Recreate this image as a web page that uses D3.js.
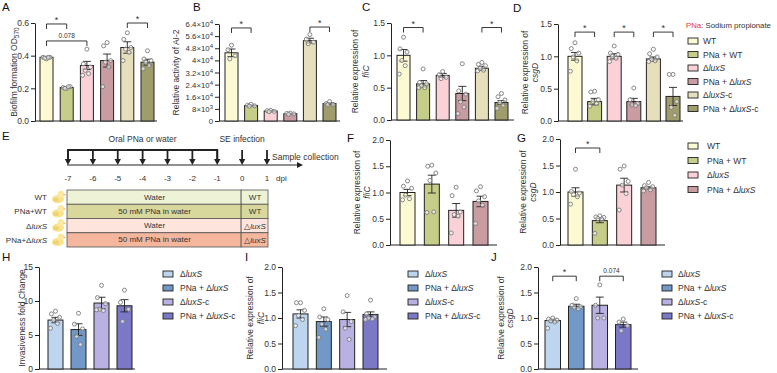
<!DOCTYPE html>
<html>
<head>
<meta charset="utf-8">
<script src="https://cdn.jsdelivr.net/npm/d3@7"></script>
<style>
body { margin: 0; background: #fff; }
svg { display: block; font-family: "Liberation Sans", Arial, sans-serif; }
</style>
</head>
<body>
<div id="chart"></div>
<script>
// groups and colours
const topGroups = ['WT', 'PNa + WT', 'ΔluxS', 'PNa + ΔluxS', 'ΔluxS-c', 'PNa + ΔluxS-c'];
const topColors = ['#fcfad3', '#c6cd89', '#f9d1d7', '#c99ca1', '#e6dfbc', '#a09d6c'];
const midGroups = ['WT', 'PNa + WT', 'ΔluxS', 'PNa + ΔluxS'];
const midColors = ['#fcfad3', '#c6cd89', '#f9d1d7', '#c99ca1'];
const botGroups = ['ΔluxS', 'PNa + ΔluxS', 'ΔluxS-c', 'PNa + ΔluxS-c'];
const botColors = ['#bdd5ee', '#7298c7', '#b9b1e1', '#7b78c7'];

// A: biofilm
const biofilmMean = [0.39, 0.205, 0.34, 0.37, 0.45, 0.36];
const biofilmSem = [0.005, 0.005, 0.025, 0.04, 0.035, 0.018];
const biofilmPts = [
    [0.38, 0.39, 0.39, 0.385, 0.39],
    [0.20, 0.205, 0.21, 0.20, 0.21],
    [0.44, 0.35, 0.33, 0.31, 0.29, 0.28],
    [0.48, 0.46, 0.37, 0.36, 0.33, 0.21],
    [0.54, 0.50, 0.45, 0.44, 0.42, 0.37],
    [0.43, 0.38, 0.37, 0.36, 0.34, 0.32]
];
// B: AI-2
const ai2Mean = [45000, 10200, 6600, 4800, 53000, 11500];
const ai2Sem = [2500, 400, 300, 250, 1600, 600];
const ai2Pts = [
    [50000, 47000, 43000, 41000],
    [11000, 10500, 10000, 9800],
    [7000, 6800, 6400, 6200],
    [5200, 5000, 4700, 4400],
    [57000, 54000, 52000, 51000],
    [12800, 11500, 11000, 10800]
];
// C: fliC (in vitro)
const fliCMean = [1.0, 0.56, 0.69, 0.41, 0.80, 0.27];
const fliCSem = [0.09, 0.05, 0.03, 0.11, 0.03, 0.03];
const fliCPts = [
    [1.28, 1.10, 1.05, 0.92, 0.84, 0.71],
    [0.79, 0.58, 0.56, 0.53, 0.50, 0.50],
    [0.75, 0.70, 0.66, 0.64],
    [0.87, 0.45, 0.40, 0.28, 0.20, 0.10],
    [0.89, 0.86, 0.84, 0.80, 0.77, 0.76],
    [0.41, 0.36, 0.31, 0.27, 0.23, 0.18]
];
// D: csgD (in vitro)
const csgDMean = [1.0, 0.30, 1.0, 0.30, 0.96, 0.38];
const csgDSem = [0.06, 0.05, 0.04, 0.05, 0.03, 0.14];
const csgDPts = [
    [1.21, 1.12, 1.05, 0.99, 0.93, 0.77],
    [0.46, 0.45, 0.33, 0.30, 0.27, 0.23],
    [1.16, 1.05, 1.03, 1.0, 0.97, 0.92],
    [0.51, 0.33, 0.27, 0.25, 0.24],
    [1.11, 1.04, 0.99, 0.95, 0.93, 0.92],
    [0.72, 0.72, 0.30, 0.21, 0.09]
];
// F, G: in vivo
const fliCVivoMean = [1.0, 1.16, 0.66, 0.83];
const fliCVivoSem = [0.06, 0.17, 0.13, 0.10];
const fliCVivoPts = [
    [1.22, 1.12, 1.08, 0.95, 0.88, 0.86],
    [1.52, 1.50, 1.37, 1.23, 0.63, 0.62],
    [1.10, 0.94, 0.63, 0.58, 0.55, 0.23],
    [1.11, 1.03, 0.92, 0.84, 0.76, 0.41]
];
const csgDVivoMean = [1.0, 0.46, 1.13, 1.08];
const csgDVivoSem = [0.08, 0.04, 0.13, 0.02];
const csgDVivoPts = [
    [1.43, 1.01, 0.98, 0.95, 0.91, 0.77],
    [0.55, 0.53, 0.52, 0.50, 0.49, 0.22],
    [1.49, 1.43, 1.20, 1.13, 0.97, 0.66],
    [1.18, 1.12, 1.10, 1.08, 1.04, 1.02]
];
// H, I, J
const invMean = [7.2, 5.8, 9.7, 9.3];
const invSem = [0.4, 0.85, 0.85, 0.9];
const invPts = [
    [8.5, 8.1, 7.6, 7.2, 6.7, 6.0],
    [8.2, 6.6, 5.9, 4.8, 3.6],
    [12.3, 10.5, 9.6, 8.8, 8.6, 8.7],
    [11.6, 9.8, 8.8, 7.0]
];
const fliCCompMean = [1.08, 0.93, 0.97, 1.07];
const fliCCompSem = [0.08, 0.09, 0.14, 0.05];
const fliCCompPts = [
    [1.30, 1.30, 1.15, 1.05, 0.97, 0.85],
    [1.18, 1.02, 0.97, 0.88, 0.78, 0.62],
    [1.44, 1.12, 0.93, 0.80, 0.58],
    [1.35, 1.08, 1.02, 1.00, 0.98, 0.97]
];
const csgDCompMean = [0.95, 1.23, 1.25, 0.87];
const csgDCompSem = [0.03, 0.04, 0.16, 0.05];
const csgDCompPts = [
    [1.0, 0.98, 0.96, 0.94, 0.92, 0.80],
    [1.38, 1.25, 1.22, 1.20, 1.18],
    [1.65, 1.25, 1.0, 1.0],
    [0.98, 0.92, 0.85, 0.75]
];

// tick values
const ticks06 = [0, 0.2, 0.4, 0.6];
const ticksAI2 = [0, 8000, 16000, 24000, 32000, 40000, 48000, 56000, 64000];
const ticks15 = [0, 0.5, 1.0, 1.5];
const ticks20 = [0, 0.5, 1.0, 1.5, 2.0];
const ticksInv = [0, 5, 10, 15];

// E: timeline and table
const days = [-7, -6, -5, -4, -3, -2, -1, 0, 1];
const oralDays = [-7, -6, -5, -4, -3, -2, -1];
const tableRows = ['WT', 'PNa+WT', 'ΔluxS', 'PNa+ΔluxS'];
const tableTreat = ['Water', '50 mM PNa in water', 'Water', '50 mM PNa in water'];
const tableStrain = ['WT', 'WT', '△luxS', '△luxS'];
const tableColors = ['#eef2d6', '#d8d89c', '#fde4dc', '#f4b69d'];

const FONT = '"Liberation Sans", Arial, sans-serif';
const INK = '#222';
const TXT = '#333';

const svg = d3.select('#chart').append('svg')
    .attr('width', 777)
    .attr('height', 373);

function richText(sel, str) {
    str.split(/(luxS|fliC|csgD)/).forEach(part => {
        if (!part) return;
        sel.append('tspan')
            .attr('font-style', /^(luxS|fliC|csgD)$/.test(part) ? 'italic' : null)
            .text(part);
    });
}

function letter(ch, x, y) {
    svg.append('text').attr('x', x).attr('y', y)
        .attr('font-size', 11.5).attr('fill', '#111').text(ch);
}

const jitter = [0, -0.27, 0.27, -0.13, 0.13, -0.33, 0.33];

function drawBarPanel(p) {
    const g = svg.append('g');
    const y = d3.scaleLinear().domain([0, p.yMax]).range([p.y0, p.y1]);
    const n = p.groups.length;
    const step = (p.barR - p.barL - p.barW) / (n - 1);
    const x = d3.scaleBand().domain(p.groups).range([p.barL, p.barR])
        .paddingInner(1 - p.barW / step).paddingOuter(0);
    const bw = x.bandwidth();

    const yAxis = g.append('g')
        .attr('transform', `translate(${p.axisX},0)`)
        .call(d3.axisLeft(y).tickValues(p.ticks).tickSize(4).tickSizeOuter(0)
            .tickPadding(2).tickFormat(p.fmt || d3.format('.1f')))
        .attr('font-family', FONT)
        .attr('font-size', p.tickSize || 8.5);
    yAxis.select('.domain').attr('stroke', INK);
    yAxis.selectAll('.tick line').attr('stroke', INK);
    yAxis.selectAll('.tick text').attr('fill', TXT);

    if (p.sci) {
        yAxis.selectAll('.tick text').each(function (d) {
            const t = d3.select(this).text('');
            if (d === 0) { t.text('0'); return; }
            const e = Math.floor(Math.log10(d) + 1e-9);
            const m = +(d / Math.pow(10, e)).toFixed(1);
            t.append('tspan').text(m + '×10');
            t.append('tspan').attr('dy', -3).attr('font-size', 6).text(e);
        });
    }

    g.append('line')
        .attr('x1', p.axisX).attr('x2', p.xEnd)
        .attr('y1', p.y0).attr('y2', p.y0)
        .attr('stroke', INK).attr('stroke-width', 1);

    const rows = p.groups.map((grp, i) => ({
        grp, mean: p.mean[i], sem: p.sem[i], pts: p.pts[i], color: p.colors[i]
    }));

    g.selectAll('rect.bar').data(rows).enter().append('rect')
        .attr('class', 'bar')
        .attr('x', d => x(d.grp))
        .attr('y', d => y(d.mean))
        .attr('width', bw)
        .attr('height', d => p.y0 - y(d.mean))
        .attr('fill', d => d.color)
        .attr('stroke', INK).attr('stroke-width', 1);

    const eb = g.selectAll('g.err').data(rows).enter().append('g').attr('class', 'err')
        .attr('stroke', INK).attr('stroke-width', 0.9);
    const cx = d => x(d.grp) + bw / 2;
    eb.append('line')
        .attr('x1', cx).attr('x2', cx)
        .attr('y1', d => y(d.mean - d.sem)).attr('y2', d => y(d.mean + d.sem));
    eb.append('line')
        .attr('x1', d => cx(d) - 4).attr('x2', d => cx(d) + 4)
        .attr('y1', d => y(d.mean + d.sem)).attr('y2', d => y(d.mean + d.sem));
    eb.append('line')
        .attr('x1', d => cx(d) - 4).attr('x2', d => cx(d) + 4)
        .attr('y1', d => y(d.mean - d.sem)).attr('y2', d => y(d.mean - d.sem));

    rows.forEach(r => {
        g.selectAll(null).data(r.pts).enter().append('circle')
            .attr('cx', (v, i) => cx(r) + jitter[i % jitter.length] * bw)
            .attr('cy', v => y(v))
            .attr('r', 2)
            .attr('fill', '#fff')
            .attr('fill-opacity', 0.6)
            .attr('stroke', '#7a7a7a')
            .attr('stroke-width', 0.9);
    });

    (p.sig || []).forEach(s => {
        const xa = cx(rows[s.a]), xb = cx(rows[s.b]), yy = y(s.v);
        g.append('path')
            .attr('d', `M${xa},${yy + 5}V${yy}H${xb}V${yy + 5}`)
            .attr('fill', 'none').attr('stroke', INK).attr('stroke-width', 0.9);
        g.append('text')
            .attr('x', (xa + xb) / 2)
            .attr('y', s.label === '*' ? yy - 1 : yy - 3)
            .attr('text-anchor', 'middle')
            .attr('font-size', s.label === '*' ? 9 : 6.5)
            .attr('fill', TXT)
            .text(s.label);
    });

    const yc = (p.y0 + p.y1) / 2;
    p.label.forEach((line, i) => {
        const t = g.append('text')
            .attr('transform', `translate(${p.labelX[i]},${yc}) rotate(-90)`)
            .attr('text-anchor', 'middle')
            .attr('dominant-baseline', 'central')
            .attr('font-size', 8.5)
            .attr('fill', TXT);
        richText(t, line);
        if (p.labelSub && i === 0) {
            t.append('tspan').attr('dy', 2).attr('font-size', 6.5).text(p.labelSub);
        }
    });
}

function drawLegend(groups, colors, sx, tx, y0, dy) {
    const g = svg.append('g');
    groups.forEach((grp, i) => {
        const yy = y0 + i * dy;
        g.append('rect')
            .attr('x', sx).attr('y', yy - 3)
            .attr('width', 10).attr('height', 6)
            .attr('fill', colors[i])
            .attr('stroke', INK).attr('stroke-width', 0.9);
        const t = g.append('text')
            .attr('x', tx).attr('y', yy)
            .attr('dominant-baseline', 'central')
            .attr('font-size', 8.5).attr('fill', TXT);
        richText(t, grp);
    });
}

// ---- top row ----
drawBarPanel({
    groups: topGroups, colors: topColors, mean: biofilmMean, sem: biofilmSem, pts: biofilmPts,
    yMax: 0.6, ticks: ticks06, y0: 121, y1: 23, axisX: 35, xEnd: 157,
    barL: 40, barR: 154, barW: 13,
    label: ['Biofilm formation OD'], labelSub: '570', labelX: [14],
    sig: [{a: 0, b: 1, v: 0.594, label: '*'}, {a: 0, b: 2, v: 0.49, label: '0.078'},
          {a: 4, b: 5, v: 0.60, label: '*'}]
});
drawBarPanel({
    groups: topGroups, colors: topColors, mean: ai2Mean, sem: ai2Sem, pts: ai2Pts,
    yMax: 64000, ticks: ticksAI2, y0: 121, y1: 24, axisX: 219, xEnd: 340,
    barL: 225, barR: 336, barW: 13, sci: true, tickSize: 7.8,
    label: ['Relative activity of AI-2'], labelX: [176],
    sig: [{a: 0, b: 1, v: 61400, label: '*'}, {a: 4, b: 5, v: 62000, label: '*'}]
});
drawBarPanel({
    groups: topGroups, colors: topColors, mean: fliCMean, sem: fliCSem, pts: fliCPts,
    yMax: 1.5, ticks: ticks15, y0: 120, y1: 23, axisX: 391, xEnd: 514,
    barL: 397, barR: 508, barW: 13,
    label: ['Relative expression of', 'fliC'], labelX: [355, 366],
    sig: [{a: 0, b: 1, v: 1.43, label: '*'}, {a: 4, b: 5, v: 1.43, label: '*'}]
});
drawBarPanel({
    groups: topGroups, colors: topColors, mean: csgDMean, sem: csgDSem, pts: csgDPts,
    yMax: 1.5, ticks: ticks15, y0: 121, y1: 24, axisX: 558, xEnd: 683,
    barL: 568, barR: 680, barW: 14,
    label: ['Relative expression of', 'csgD'], labelX: [525, 535],
    sig: [{a: 0, b: 1, v: 1.375, label: '*'}, {a: 2, b: 3, v: 1.375, label: '*'},
          {a: 4, b: 5, v: 1.375, label: '*'}]
});
const pnaNote = svg.append('text').attr('x', 686).attr('y', 25)
    .attr('dominant-baseline', 'central').attr('font-size', 7.8).attr('fill', TXT);
pnaNote.append('tspan').attr('fill', '#e8302a').text('PNa');
pnaNote.append('tspan').text(': Sodium propionate');
drawLegend(topGroups, topColors, 688, 703, 41, 13.5);

// ---- middle row ----
drawBarPanel({
    groups: midGroups, colors: midColors, mean: fliCVivoMean, sem: fliCVivoSem, pts: fliCVivoPts,
    yMax: 2.0, ticks: ticks20, y0: 245, y1: 140, axisX: 390, xEnd: 497,
    barL: 400, barR: 488, barW: 15,
    label: ['Relative expression of', 'fliC'], labelX: [357, 367]
});
drawBarPanel({
    groups: midGroups, colors: midColors, mean: csgDVivoMean, sem: csgDVivoSem, pts: csgDVivoPts,
    yMax: 2.0, ticks: ticks20, y0: 245, y1: 139, axisX: 560, xEnd: 665,
    barL: 568, barR: 656, barW: 15,
    label: ['Relative expression of', 'csgD'], labelX: [523, 533],
    sig: [{a: 0, b: 1, v: 1.83, label: '*'}]
});
drawLegend(midGroups, midColors, 688, 707, 146, 14.5);

// ---- bottom row ----
drawBarPanel({
    groups: botGroups, colors: botColors, mean: invMean, sem: invSem, pts: invPts,
    yMax: 15, ticks: ticksInv, y0: 369, y1: 267, axisX: 39, xEnd: 135,
    barL: 48, barR: 132, barW: 15, fmt: d3.format('d'),
    label: ['Invasiveness fold Change'], labelX: [22]
});
drawLegend(botGroups, botColors, 163, 180, 274, 14);
drawBarPanel({
    groups: botGroups, colors: botColors, mean: fliCCompMean, sem: fliCCompSem, pts: fliCCompPts,
    yMax: 2.0, ticks: ticks20, y0: 369, y1: 267, axisX: 282, xEnd: 387,
    barL: 293, barR: 378, barW: 15,
    label: ['Relative expression of', 'fliC'], labelX: [250, 261]
});
drawLegend(botGroups, botColors, 408, 425, 274, 14);
drawBarPanel({
    groups: botGroups, colors: botColors, mean: csgDCompMean, sem: csgDCompSem, pts: csgDCompPts,
    yMax: 2.0, ticks: ticks20, y0: 369, y1: 267, axisX: 538, xEnd: 638,
    barL: 545, barR: 631, barW: 15.5,
    label: ['Relative expression of', 'csgD'], labelX: [501, 510],
    sig: [{a: 0, b: 1, v: 1.82, label: '*'}, {a: 2, b: 3, v: 1.82, label: '0.074'}]
});
drawLegend(botGroups, botColors, 662, 678, 274, 14);

// ---- E: schedule ----
const dayX = d3.scaleLinear().domain([-7, 1]).range([68, 267]);
const gE = svg.append('g');
const tlY = 165, brY = 150;

gE.append('line').attr('x1', dayX(-7) - 1).attr('x2', 298).attr('y1', tlY).attr('y2', tlY)
    .attr('stroke', INK).attr('stroke-width', 1.2);
gE.append('path').attr('d', `M303,${tlY}L297,${tlY - 3}L297,${tlY + 3}Z`).attr('fill', INK);

gE.append('path')
    .attr('d', `M${dayX(-7)},${tlY - 5}V${brY}H${dayX(-1)}V${tlY - 5}`)
    .attr('fill', 'none').attr('stroke', INK).attr('stroke-width', 1.8);

days.forEach(d => {
    const xx = dayX(d);
    gE.append('line').attr('x1', xx).attr('x2', xx).attr('y1', brY).attr('y2', tlY - 5)
        .attr('stroke', INK).attr('stroke-width', 1.8);
    gE.append('path').attr('d', `M${xx - 3.2},${tlY - 6}L${xx + 3.2},${tlY - 6}L${xx},${tlY}Z`)
        .attr('fill', INK);
});

gE.selectAll('text.day').data(days).enter().append('text')
    .attr('class', 'day')
    .attr('x', d => dayX(d)).attr('y', 178)
    .attr('text-anchor', 'middle').attr('dominant-baseline', 'central')
    .attr('font-size', 8).attr('fill', TXT)
    .text(d => d);
gE.append('text').attr('x', 276).attr('y', 178).attr('dominant-baseline', 'central')
    .attr('font-size', 8).attr('fill', TXT).text('dpi');

gE.append('text').attr('x', d3.mean(oralDays, dayX)).attr('y', 139)
    .attr('text-anchor', 'middle').attr('dominant-baseline', 'central')
    .attr('font-size', 8.5).attr('fill', TXT).text('Oral PNa or water');
gE.append('text').attr('x', dayX(0)).attr('y', 139)
    .attr('text-anchor', 'middle').attr('dominant-baseline', 'central')
    .attr('font-size', 8.5).attr('fill', TXT).text('SE infection');
gE.append('text').attr('x', 272).attr('y', 157)
    .attr('dominant-baseline', 'central')
    .attr('font-size', 8.5).attr('fill', TXT).text('Sample collection');

const rowY = d3.scaleBand().domain(tableRows).range([190, 247]).padding(0);
tableRows.forEach((r, i) => {
    const yy = rowY(r), h = rowY.bandwidth();
    gE.append('rect').attr('x', 67).attr('y', yy).attr('width', dayX(0) - 1 - 67).attr('height', h)
        .attr('fill', tableColors[i]).attr('stroke', '#555').attr('stroke-width', 0.8);
    gE.append('rect').attr('x', dayX(0) - 1).attr('y', yy).attr('width', 268 - dayX(0) + 1).attr('height', h)
        .attr('fill', tableColors[i]).attr('stroke', '#555').attr('stroke-width', 0.8);
    gE.append('text').attr('x', (67 + dayX(0)) / 2).attr('y', yy + h / 2)
        .attr('text-anchor', 'middle').attr('dominant-baseline', 'central')
        .attr('font-size', 8).attr('fill', TXT).text(tableTreat[i]);
    const st = gE.append('text').attr('x', (dayX(0) + 268) / 2).attr('y', yy + h / 2)
        .attr('text-anchor', 'middle').attr('dominant-baseline', 'central')
        .attr('font-size', 8).attr('fill', TXT);
    richText(st, tableStrain[i]);
    const lt = gE.append('text').attr('x', 47).attr('y', yy + h / 2)
        .attr('text-anchor', 'end').attr('dominant-baseline', 'central')
        .attr('font-size', 8).attr('fill', TXT);
    richText(lt, r);
    // little chick
    const cy = yy + h / 2;
    const chick = gE.append('g').attr('transform', `translate(57,${cy})`);
    chick.append('ellipse').attr('cx', 1).attr('cy', 2).attr('rx', 6).attr('ry', 4.2).attr('fill', '#f8e48e');
    chick.append('circle').attr('cx', 4).attr('cy', -3).attr('r', 3.3).attr('fill', '#fbe9a2');
    chick.append('ellipse').attr('cx', -1).attr('cy', 2.5).attr('rx', 3).attr('ry', 2).attr('fill', '#efd274');
    chick.append('path').attr('d', 'M6.8,-3.2L9,-2.4L6.8,-1.6Z').attr('fill', '#eea24a');
});

// panel letters
letter('A', 2, 11);
letter('B', 193, 11);
letter('C', 362, 11);
letter('D', 513, 12);
letter('E', 2, 140);
letter('F', 347, 142);
letter('G', 517, 142);
letter('H', 2, 261);
letter('I', 245, 261);
letter('J', 491, 261);
</script>
</body>
</html>
